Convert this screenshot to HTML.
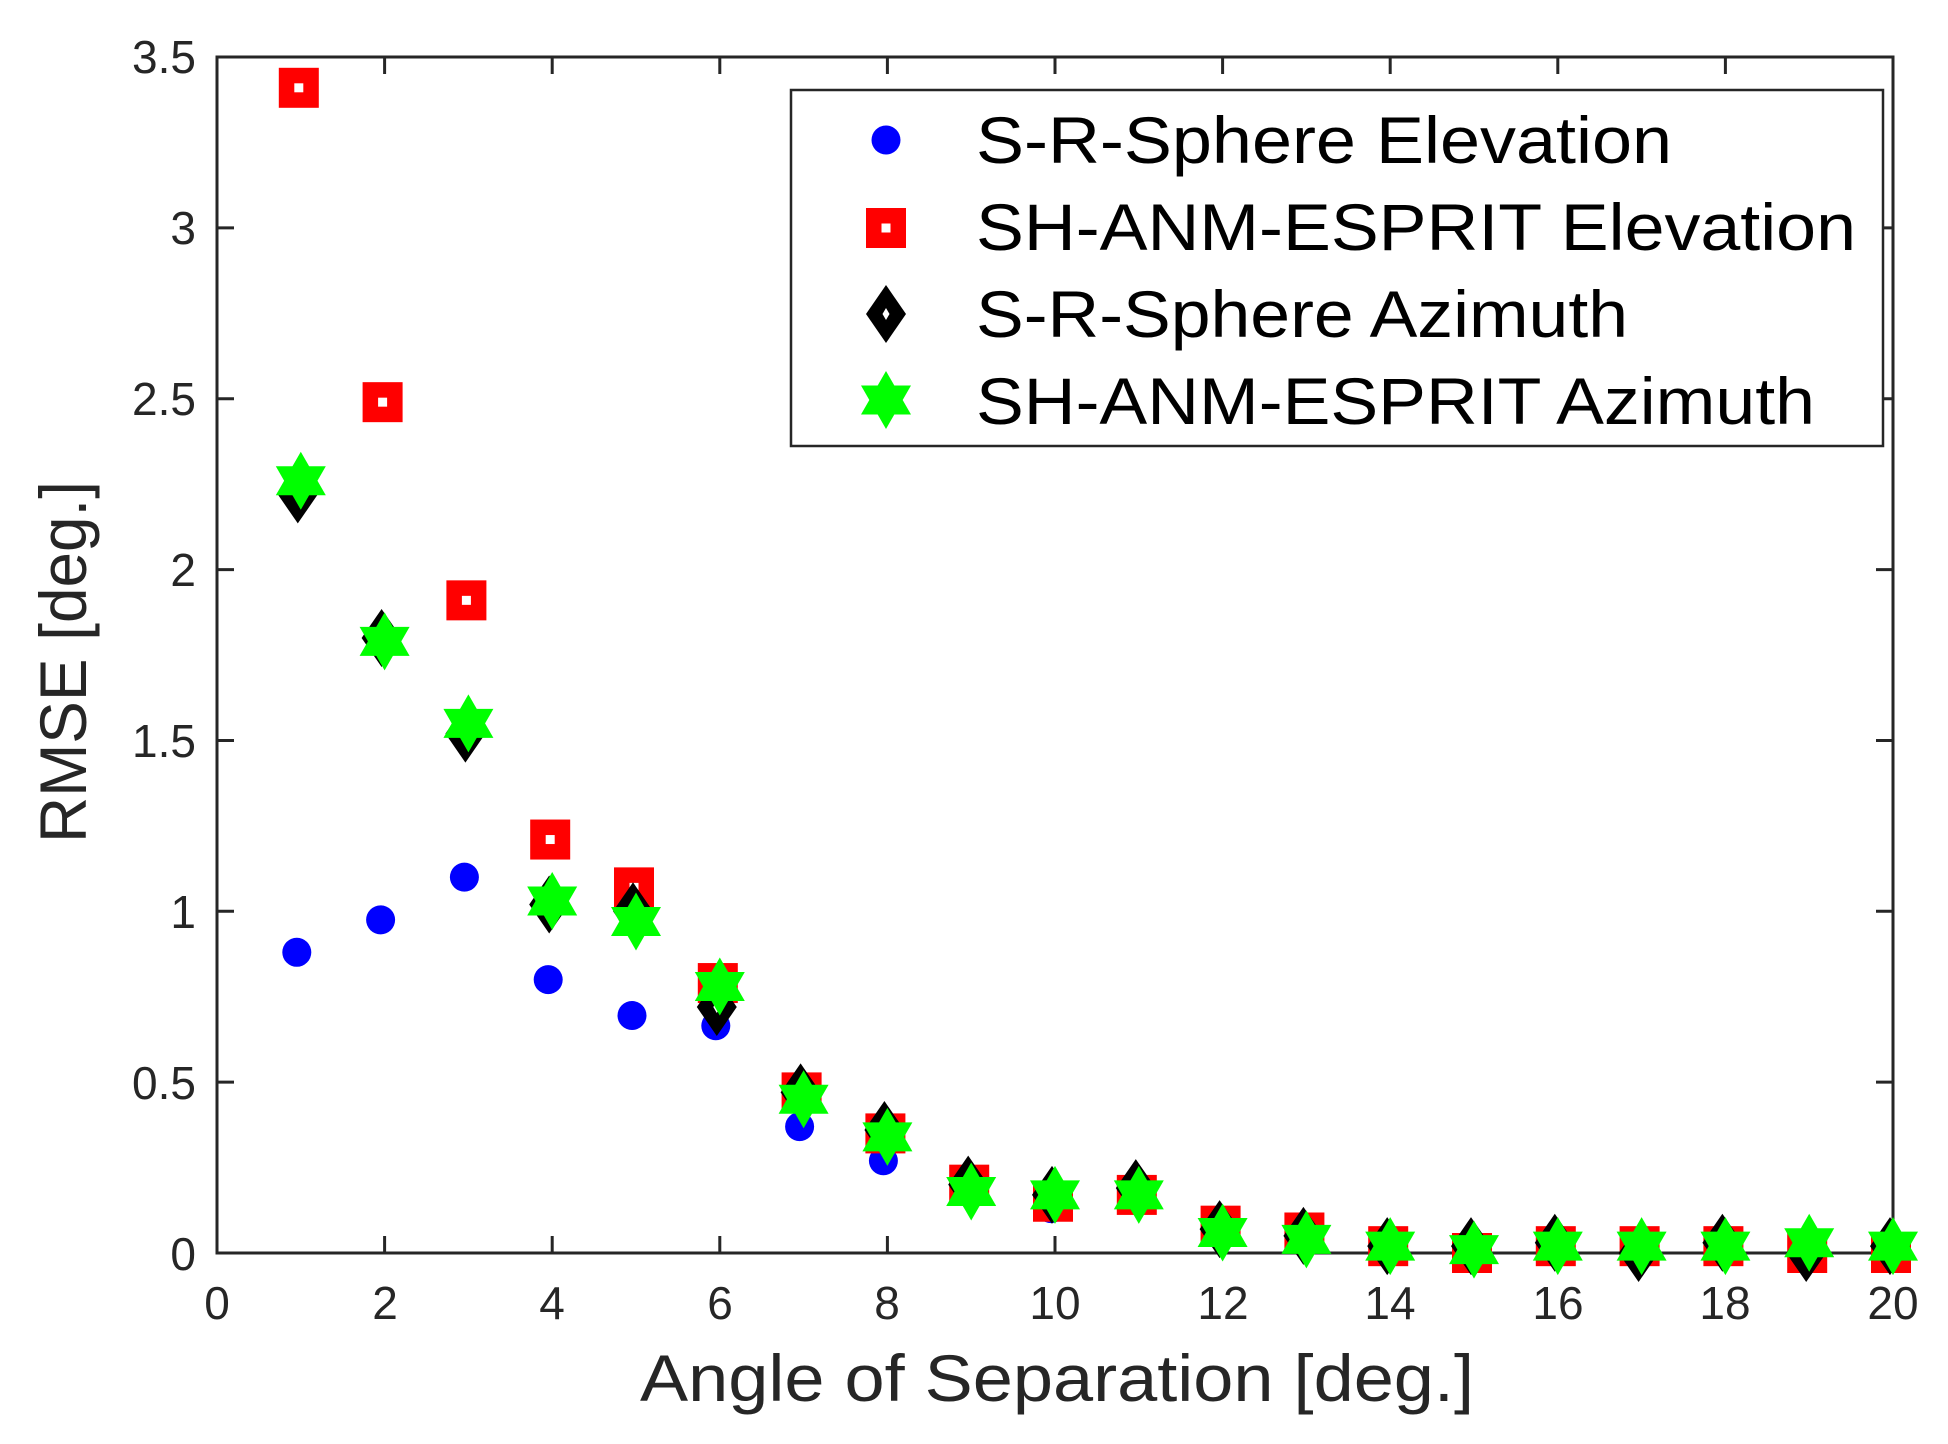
<!DOCTYPE html>
<html><head><meta charset="utf-8"><style>
html,body{margin:0;padding:0;background:#fff;}
svg{display:block;font-family:"Liberation Sans",Arial,sans-serif;}
</style></head><body>
<svg id="s" width="1948" height="1444" viewBox="0 0 1948 1444" xmlns="http://www.w3.org/2000/svg">
<defs>
<g id="bc"><circle r="14.5" fill="#0000ff"/></g>
<g id="rs"><rect x="-20" y="-20" width="40" height="40" fill="#ff0000"/><rect x="-4.5" y="-4.5" width="9" height="9" fill="#fff"/></g>
<g id="kd"><polygon points="0,-29 20,0 0,29 -20,0" fill="#000"/><polygon points="0,-6 3.5,0 0,6 -3.5,0" fill="#fff"/></g>
<g id="gs"><polygon points="0,-29 25,14.5 -25,14.5" fill="#00ff00"/><polygon points="0,29 25,-14.5 -25,-14.5" fill="#00ff00"/></g>
</defs>
<rect x="217" y="57" width="1676" height="1196" fill="none" stroke="#262626" stroke-width="3"/>
<g id="ticks" stroke="#262626" stroke-width="3"></g>
<g id="pts"></g>
<g font-size="46" fill="#262626" text-anchor="end">
<text x="196" y="1270">0</text>
<text x="196" y="1099">0.5</text>
<text x="196" y="928">1</text>
<text x="196" y="757">1.5</text>
<text x="196" y="586">2</text>
<text x="196" y="415">2.5</text>
<text x="196" y="244">3</text>
<text x="196" y="73">3.5</text>
</g>
<g font-size="46" fill="#262626" text-anchor="middle">
<text x="217" y="1319">0</text>
<text x="385" y="1319">2</text>
<text x="552" y="1319">4</text>
<text x="720" y="1319">6</text>
<text x="887" y="1319">8</text>
<text x="1055" y="1319">10</text>
<text x="1223" y="1319">12</text>
<text x="1390" y="1319">14</text>
<text x="1558" y="1319">16</text>
<text x="1725" y="1319">18</text>
<text x="1893" y="1319">20</text>
</g>
<text x="1057" y="1401" font-size="66" fill="#262626" text-anchor="middle" textLength="834" lengthAdjust="spacingAndGlyphs">Angle of Separation [deg.]</text>
<text transform="translate(86,662) rotate(-90)" font-size="66" fill="#262626" text-anchor="middle" textLength="362" lengthAdjust="spacingAndGlyphs">RMSE [deg.]</text>
<rect x="791" y="90" width="1092" height="356" fill="#fff" stroke="#262626" stroke-width="2.5" transform="translate(0,0)"/>
<use href="#bc" x="886" y="140"/>
<use href="#rs" x="886" y="228"/>
<use href="#kd" x="886" y="314"/>
<use href="#gs" x="886" y="400"/>
<g font-size="66" fill="#000">
<text x="976" y="163" textLength="696" lengthAdjust="spacingAndGlyphs">S-R-Sphere Elevation</text>
<text x="976" y="250" textLength="880" lengthAdjust="spacingAndGlyphs">SH-ANM-ESPRIT Elevation</text>
<text x="976" y="337" textLength="652" lengthAdjust="spacingAndGlyphs">S-R-Sphere Azimuth</text>
<text x="976" y="424" textLength="839" lengthAdjust="spacingAndGlyphs">SH-ANM-ESPRIT Azimuth</text>
</g>
</svg>
<script>
var NS="http://www.w3.org/2000/svg";
function X(v){return 217+v*83.8;}
function Y(v){return 1253-v*341.7;}
var t=document.getElementById("ticks");
function ln(a,b,c,d){var l=document.createElementNS(NS,"line");l.setAttribute("x1",a);l.setAttribute("y1",b);l.setAttribute("x2",c);l.setAttribute("y2",d);t.appendChild(l);}
for(var i=1;i<10;i++){var x=X(2*i);ln(x,1253,x,1236);ln(x,57,x,74);}
for(var j=1;j<7;j++){var y=Y(0.5*j);ln(217,y,234,y);ln(1893,y,1876,y);}
var B=[0.88,0.975,1.10,0.80,0.695,0.665,0.37,0.27,0.2,0.13,0.16,0.06,0.05,0.02,0.01,0.02,0.02,0.02,0.01,0.01];
var R=[3.41,2.49,1.91,1.21,1.07,0.79,0.47,0.35,0.2,0.15,0.17,0.08,0.06,0.02,0.0,0.02,0.02,0.02,0.0,0.0];
var K=[2.22,1.80,1.52,1.02,1.0,0.72,0.47,0.36,0.2,0.17,0.19,0.07,0.05,0.02,0.02,0.03,0.0,0.03,0.0,0.02];
var G=[2.26,1.79,1.55,1.03,0.97,0.78,0.45,0.34,0.18,0.17,0.17,0.06,0.04,0.02,0.01,0.02,0.02,0.02,0.03,0.02];
var p=document.getElementById("pts");
function put(id,arr,dx){for(var i=0;i<arr.length;i++){var u=document.createElementNS(NS,"use");u.setAttribute("href","#"+id);u.setAttribute("x",X(i+1)+dx);u.setAttribute("y",Y(arr[i]));p.appendChild(u);}}
put("bc",B,-4);put("rs",R,-2);put("kd",K,-3);put("gs",G,0);
</script>
</body></html>
